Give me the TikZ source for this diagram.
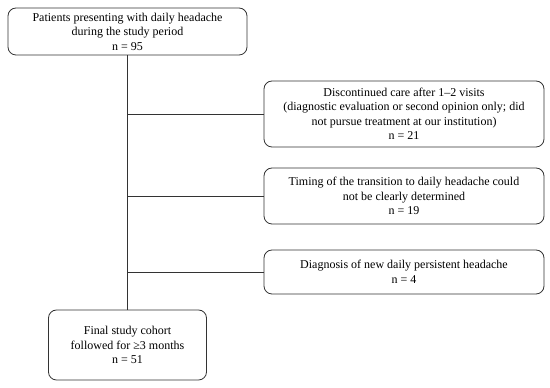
\documentclass[tikz,border=0pt]{standalone}
\usepackage{fontspec}
\setmainfont{Liberation Serif}
\begin{document}
\begin{tikzpicture}[x=1pt,y=1pt,
  flowbox/.style={draw=black!80, line width=0.8pt, rounded corners=8pt, align=center, inner sep=2pt,
    font=\fontsize{12}{14.5}\selectfont, text=black},
  link/.style={draw=black!80, line width=0.8pt}]
\useasboundingbox (0,0) rectangle (550,388);
\node[flowbox, minimum width=239pt, minimum height=47pt] (top) at (127.5,356.5)
  {Patients presenting with daily headache\\during the study period\\n = 95};
\node[flowbox, minimum width=280pt, minimum height=66pt] (b2) at (404,274)
  {Discontinued care after 1–2 visits\\(diagnostic evaluation or second opinion only; did\\not pursue treatment at our institution)\\n = 21};
\node[flowbox, minimum width=280pt, minimum height=56pt] (b3) at (404,192)
  {Timing of the transition to daily headache could\\not be clearly determined\\n = 19};
\node[flowbox, minimum width=280pt, minimum height=44pt] (b4) at (404,116)
  {Diagnosis of new daily persistent headache\\n = 4};
\node[flowbox, minimum width=158pt, minimum height=70pt] (fin) at (127.5,43)
  {Final study cohort\\followed for ≥3 months\\n = 51};
\draw[link] (top.south) -- (fin.north);
\draw[link] (b2.west) -- (b2.west -| top.south);
\draw[link] (b3.west) -- (b3.west -| top.south);
\draw[link] (b4.west) -- (b4.west -| top.south);
\end{tikzpicture}
\end{document}
